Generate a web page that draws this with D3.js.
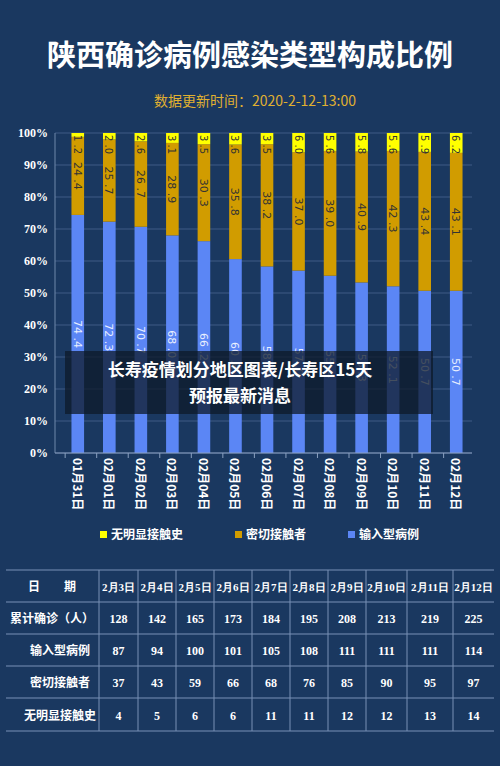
<!DOCTYPE html><html><head><meta charset="utf-8"><script src="https://cdn.jsdelivr.net/npm/d3@7"></script>
<style>body{margin:0;background:#1a3860}svg{display:block}</style></head><body><svg id="c" width="500" height="766"></svg>
<script>
const dates=["01月31日","02月01日","02月02日","02月03日","02月04日","02月05日","02月06日","02月07日","02月08日","02月09日","02月10日","02月11日","02月12日"];
const imported=[74.4,72.3,70.7,68.0,66.2,60.6,58.3,57.0,55.4,53.3,52.1,50.7,50.7];
const close=[24.4,25.7,26.7,28.9,30.3,35.8,38.2,37.0,39.0,40.9,42.3,43.4,43.1];
const unknown=[1.2,2.0,2.6,3.1,3.5,3.6,3.5,6.0,5.6,5.8,5.6,5.9,6.2];
const yTicks=[0,10,20,30,40,50,60,70,80,90,100];
const tDates=["2月3日","2月4日","2月5日","2月6日","2月7日","2月8日","2月9日","2月10日","2月11日","2月12日"];
const tTotal=[128,142,165,173,184,195,208,213,219,225];
const tImported=[87,94,100,101,105,108,111,111,111,114];
const tClose=[37,43,59,66,68,76,85,90,95,97];
const tUnknown=[4,5,6,6,11,11,12,12,13,14];
const rowNames=["日　　期","累计确诊（人）","输入型病例","密切接触者","无明显接触史"];
const C={imp:"#5b86f5",close:"#d19c00",unk:"#ffff00"};
const svg=d3.select("#c");
const F="'Noto Sans CJK SC',sans-serif";
svg.append("text").attr("x",250).attr("y",66).attr("text-anchor","middle").attr("fill","#fff").attr("font-size",29).attr("font-weight","bold").attr("font-family",F).text("陕西确诊病例感染类型构成比例");
svg.append("text").attr("x",255).attr("y",106).attr("text-anchor","middle").attr("fill","#e0b030").attr("font-size",14).attr("font-family",F).text("数据更新时间：2020-2-12-13:00");
const x=d3.scaleBand().domain(dates).range([62,472]).paddingInner(0.6).paddingOuter(0.3);
const y=d3.scaleLinear().domain([0,100]).range([453,133]);
const g=svg.append("g");
yTicks.forEach(t=>{g.append("line").attr("x1",55).attr("x2",472).attr("y1",y(t)).attr("y2",y(t)).attr("stroke","#4a6690").attr("stroke-width",0.8);
g.append("text").attr("x",48).attr("y",y(t)+4).attr("text-anchor","end").attr("fill","#fff").attr("font-size",12).attr("font-weight","bold").attr("font-family","Liberation Serif").text(t+"%");});
g.append("line").attr("x1",55).attr("x2",55).attr("y1",133).attr("y2",453).attr("stroke","#6f88aa");
const stacks=dates.map((d,i)=>[[0,imported[i],C.imp,"#e8eeff"],[imported[i],imported[i]+close[i],C.close,"#333"],[imported[i]+close[i],100,C.unk,"#333"]].map(s=>({d,s,v:s[1]-s[0]})));
stacks.forEach(st=>st.forEach(o=>{
 g.append("rect").attr("x",x(o.d)).attr("width",x.bandwidth()).attr("y",y(o.s[1])).attr("height",y(o.s[0])-y(o.s[1])).attr("fill",o.s[2]);
 const cx=x(o.d)+x.bandwidth()/2, top=y(o.s[1]);
 const isUnk=o.s[2]===C.unk;
 const cy=isUnk?top+2:(top+y(o.s[0]))/2;
 g.append("text").attr("transform",`translate(${cx-4},${cy}) rotate(90)`).attr("text-anchor",isUnk?"start":"middle").attr("fill",o.s[3]).attr("font-size",isUnk?10:11).attr("font-family","DejaVu Sans").text(o.v.toFixed(1).replace("."," ."));
}));
g.append("line").attr("x1",55).attr("x2",472).attr("y1",453).attr("y2",453).attr("stroke","#8aa0c0");
dates.forEach(d=>{const cx=x(d)+x.bandwidth()/2;
 g.append("line").attr("x1",x(d)-x.step()*0.2).attr("x2",x(d)-x.step()*0.2).attr("y1",453).attr("y2",458).attr("stroke","#8aa0c0");
 g.append("text").attr("transform",`translate(${cx-5},458) rotate(90)`).attr("fill","#fff").attr("font-size",12).attr("font-weight","bold").attr("font-family","'Noto Sans CJK SC',serif").text(d);});
[["无明显接触史",C.unk,100],["密切接触者",C.close,235],["输入型病例",C.imp,348]].forEach(l=>{
 svg.append("rect").attr("x",l[2]).attr("y",531).attr("width",7).attr("height",7).attr("fill",l[1]);
 svg.append("text").attr("x",l[2]+11).attr("y",539).attr("fill","#fff").attr("font-size",12).attr("font-weight","bold").attr("font-family",F).text(l[0]);});
const colX=[6,99,138,176,214,252,290,328,366,407,453,494];
const rowY=[570,602,634,666,698,731];
const rows=[tDates,tTotal,tImported,tClose,tUnknown];
const tg=svg.append("g");
rowY.forEach(r=>tg.append("line").attr("x1",6).attr("x2",494).attr("y1",r).attr("y2",r).attr("stroke","#7890b5").attr("stroke-width",1.2));
colX.slice(1,-1).forEach(c=>tg.append("line").attr("x1",c).attr("x2",c).attr("y1",570).attr("y2",731).attr("stroke","#7890b5"));
rows.forEach((r,ri)=>{const cy=(rowY[ri]+rowY[ri+1])/2+5;
 tg.append("text").attr("x",ri<2?52:60).attr("y",cy).attr("text-anchor","middle").attr("fill","#fff").attr("font-size",12).attr("font-weight","bold").attr("font-family",F).text(rowNames[ri]);
 r.forEach((v,ci)=>tg.append("text").attr("x",(colX[ci+1]+colX[ci+2])/2).attr("y",cy).attr("text-anchor","middle").attr("fill","#fff").attr("font-size",ri==0?11:12).attr("font-weight","bold").attr("font-family","Liberation Serif").text(v));});
svg.append("rect").attr("x",65).attr("y",351).attr("width",368).attr("height",63).attr("fill","#0d1a2a").attr("opacity",0.75);
svg.append("text").attr("x",240).attr("y",376).attr("text-anchor","middle").attr("fill","#fff").attr("font-size",17).attr("font-weight","bold").attr("font-family",F).text("长寿疫情划分地区图表/长寿区15天");
svg.append("text").attr("x",240).attr("y",402).attr("text-anchor","middle").attr("fill","#fff").attr("font-size",17).attr("font-weight","bold").attr("font-family",F).text("预报最新消息");
</script></body></html>
